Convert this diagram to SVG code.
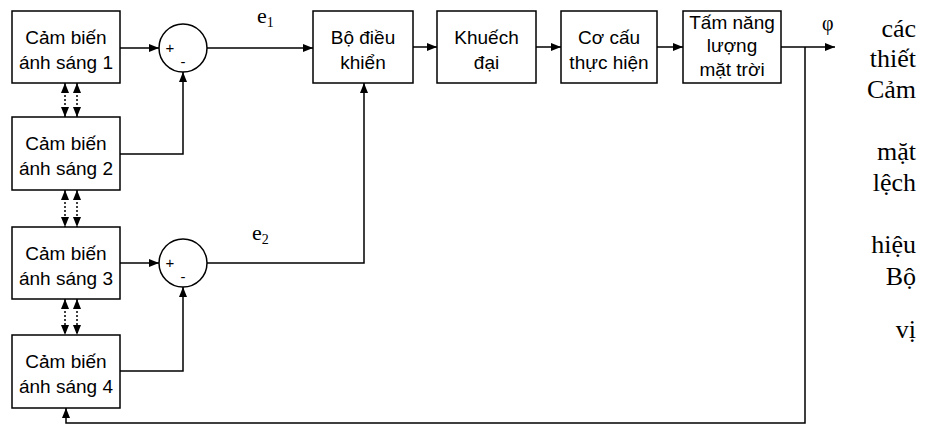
<svg xmlns="http://www.w3.org/2000/svg" width="928" height="426" viewBox="0 0 928 426">
  <style>
    .box { fill: #fff; stroke: #000; stroke-width: 1.5; }
    .sum { fill: #fff; stroke: #000; stroke-width: 1.5; }
    .lbl { font-family: "Liberation Sans", Arial, sans-serif; font-size: 19px; text-anchor: middle; fill: #000; }
    .sign { font-family: "Liberation Sans", Arial, sans-serif; font-size: 15px; text-anchor: middle; fill: #000; }
    .wire { fill: none; stroke: #000; stroke-width: 1.5; }
    .link { fill: none; stroke: #000; stroke-width: 1.5; stroke-dasharray: 2 2; }
    .sig { font-family: "Liberation Serif", "Times New Roman", serif; fill: #000; }
    .para { font-family: "Liberation Serif", "Times New Roman", serif; font-size: 26px; text-anchor: end; fill: #000; }
  </style>
  <defs>
    <marker id="arrow" viewBox="0 0 10 8" refX="10" refY="4" markerWidth="10" markerHeight="8" markerUnits="userSpaceOnUse" orient="auto">
      <path d="M0,0 L10,4 L0,8 Z" fill="#000"/>
    </marker>
    <marker id="arrowStart" viewBox="0 0 10 8" refX="0" refY="4" markerWidth="10" markerHeight="8" markerUnits="userSpaceOnUse" orient="auto">
      <path d="M10,0 L0,4 L10,8 Z" fill="#000"/>
    </marker>
  </defs>

  <!-- light sensors -->
  <g id="sensor1">
    <rect class="box" x="12" y="11" width="108" height="72"/>
    <text class="lbl" x="66" y="44">Cảm biến</text>
    <text class="lbl" x="66" y="69">ánh sáng 1</text>
  </g>
  <g id="sensor2">
    <rect class="box" x="12" y="117" width="108" height="73"/>
    <text class="lbl" x="66" y="150">Cảm biến</text>
    <text class="lbl" x="66" y="175">ánh sáng 2</text>
  </g>
  <g id="sensor3">
    <rect class="box" x="12" y="227" width="108" height="72"/>
    <text class="lbl" x="66" y="260">Cảm biến</text>
    <text class="lbl" x="66" y="285">ánh sáng 3</text>
  </g>
  <g id="sensor4">
    <rect class="box" x="12" y="335" width="108" height="73"/>
    <text class="lbl" x="66" y="368">Cảm biến</text>
    <text class="lbl" x="66" y="393">ánh sáng 4</text>
  </g>

  <!-- summing junctions -->
  <g id="sum1">
    <circle class="sum" cx="183" cy="48" r="24"/>
    <text class="sign" x="170" y="53">+</text>
    <text class="sign" x="183" y="67">-</text>
  </g>
  <g id="sum2">
    <circle class="sum" cx="183" cy="263" r="24"/>
    <text class="sign" x="170" y="268">+</text>
    <text class="sign" x="183" y="282">-</text>
  </g>

  <!-- forward path -->
  <g id="controller">
    <rect class="box" x="313" y="11" width="100" height="72"/>
    <text class="lbl" x="363" y="44">Bộ điều</text>
    <text class="lbl" x="363" y="69">khiển</text>
  </g>
  <g id="amplifier">
    <rect class="box" x="437" y="11" width="99" height="72"/>
    <text class="lbl" x="486.5" y="44">Khuếch</text>
    <text class="lbl" x="486.5" y="69">đại</text>
  </g>
  <g id="actuator">
    <rect class="box" x="561" y="11" width="96" height="72"/>
    <text class="lbl" x="609" y="44">Cơ cấu</text>
    <text class="lbl" x="609" y="69">thực hiện</text>
  </g>
  <g id="panel">
    <rect class="box" x="683" y="11" width="98" height="72"/>
    <text class="lbl" x="732" y="29">Tấm năng</text>
    <text class="lbl" x="732" y="52">lượng</text>
    <text class="lbl" x="732" y="76">mặt trời</text>
  </g>

  <!-- connectors -->
  <g id="connectors">
    <!-- sensor 1/2 into junction 1 -->
    <line class="wire" x1="120" y1="48" x2="159" y2="48" marker-end="url(#arrow)"/>
    <polyline class="wire" points="120,154 183,154 183,72" marker-end="url(#arrow)"/>
    <!-- sensor 3/4 into junction 2 -->
    <line class="wire" x1="120" y1="263" x2="159" y2="263" marker-end="url(#arrow)"/>
    <polyline class="wire" points="120,371 183,371 183,287" marker-end="url(#arrow)"/>
    <!-- error signals to controller -->
    <line class="wire" x1="207" y1="48" x2="313" y2="48" marker-end="url(#arrow)"/>
    <polyline class="wire" points="207,263 364,263 364,83" marker-end="url(#arrow)"/>
    <!-- chain of blocks -->
    <line class="wire" x1="413" y1="47" x2="437" y2="47" marker-end="url(#arrow)"/>
    <line class="wire" x1="536" y1="47" x2="561" y2="47" marker-end="url(#arrow)"/>
    <line class="wire" x1="657" y1="47" x2="683" y2="47" marker-end="url(#arrow)"/>
    <line class="wire" x1="781" y1="47" x2="835" y2="47" marker-end="url(#arrow)"/>
    <!-- feedback of panel angle -->
    <polyline class="wire" points="805,47 805,423 66,423 66,408" marker-end="url(#arrow)"/>
    <!-- sensor coupling (dotted, both directions) -->
    <line class="link" x1="65" y1="83" x2="65" y2="117" marker-start="url(#arrowStart)" marker-end="url(#arrow)"/>
    <line class="link" x1="77" y1="83" x2="77" y2="117" marker-start="url(#arrowStart)" marker-end="url(#arrow)"/>
    <line class="link" x1="65" y1="190" x2="65" y2="227" marker-start="url(#arrowStart)" marker-end="url(#arrow)"/>
    <line class="link" x1="77" y1="190" x2="77" y2="227" marker-start="url(#arrowStart)" marker-end="url(#arrow)"/>
    <line class="link" x1="65" y1="299" x2="65" y2="335" marker-start="url(#arrowStart)" marker-end="url(#arrow)"/>
    <line class="link" x1="77" y1="299" x2="77" y2="335" marker-start="url(#arrowStart)" marker-end="url(#arrow)"/>
  </g>

  <!-- signal labels -->
  <text class="sig" x="257" y="23" font-size="22">e<tspan font-size="14" dy="4">1</tspan></text>
  <text class="sig" x="252" y="240" font-size="22">e<tspan font-size="14" dy="4">2</tspan></text>
  <text class="sig" x="822" y="30" font-size="20">φ</text>

  <!-- running text at the right margin -->
  <text class="para" x="916" y="37">các</text>
  <text class="para" x="916" y="67">thiết</text>
  <text class="para" x="916" y="98">Cảm</text>
  <text class="para" x="916" y="160">mặt</text>
  <text class="para" x="916" y="191">lệch</text>
  <text class="para" x="916" y="253">hiệu</text>
  <text class="para" x="916" y="285">Bộ</text>
  <text class="para" x="916" y="338">vị</text>
</svg>
